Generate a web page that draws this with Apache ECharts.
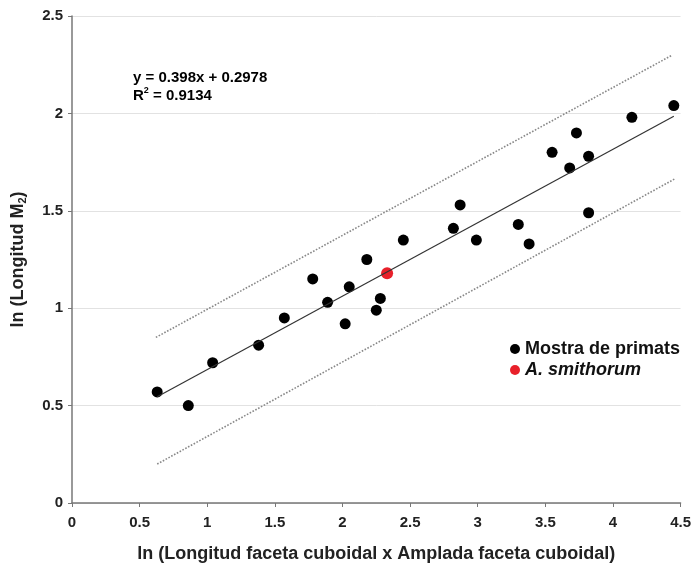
<!DOCTYPE html>
<html>
<head>
<meta charset="utf-8">
<script src="https://cdn.jsdelivr.net/npm/echarts@6/dist/echarts.min.js"></script>
<style>
  html, body { margin: 0; padding: 0; background: #fff; }
  #chart { width: 694px; height: 568px; }
</style>
</head>
<body>
<div id="chart"></div>
<script>
// primate sample
const primatX = [0.63, 0.86, 1.04, 1.38, 1.57, 1.78, 1.89, 2.02, 2.05, 2.18, 2.25, 2.28,
  2.45, 2.82, 2.87, 2.99, 3.30, 3.38, 3.55, 3.68, 3.73, 3.82, 3.82, 4.14, 4.45];
const primatY = [0.57, 0.50, 0.72, 0.81, 0.95, 1.15, 1.03, 0.92, 1.11, 1.25, 0.99, 1.05,
  1.35, 1.41, 1.53, 1.35, 1.43, 1.33, 1.80, 1.72, 1.90, 1.78, 1.49, 1.98, 2.04];
const smithX = [2.33];
const smithY = [1.18];

// regression line and dotted band, end points
const fitX = [0.63, 4.45];
const fitY = [0.545, 1.985];
const upperX = [0.62, 4.44];
const upperY = [0.85, 2.30];
const lowerX = [0.63, 4.46];
const lowerY = [0.20, 1.665];

const xTicks = [0, 4.5, 0.5];
const yTicks = [0, 2.5, 0.5];

const zip = (xs, ys) => xs.map((x, i) => [x, ys[i]]);
const font = '"Liberation Sans", Arial, sans-serif';

const chart = echarts.init(document.getElementById('chart'));
chart.setOption({
  animation: false,
  grid: { left: 72, right: 11, top: 16, bottom: 65 },
  xAxis: {
    type: 'value',
    min: xTicks[0],
    max: xTicks[1],
    interval: xTicks[2],
    name: 'ln (Longitud faceta cuboidal x Amplada faceta cuboidal)',
    nameLocation: 'middle',
    nameGap: 42,
    nameTextStyle: { fontFamily: font, fontWeight: 'bold', fontSize: 18, color: '#222' },
    axisLine: { lineStyle: { color: '#777', width: 1.5 } },
    axisTick: { show: true, length: 4, lineStyle: { color: '#777' } },
    axisLabel: { fontFamily: font, fontWeight: 'bold', fontSize: 15, color: '#222', margin: 12 },
    splitLine: { show: false },
  },
  yAxis: {
    type: 'value',
    min: yTicks[0],
    max: yTicks[1],
    interval: yTicks[2],
    name: '{a|ln (Longitud M}{s|2}{a|)}',
    nameLocation: 'middle',
    nameGap: 44,
    nameTextStyle: {
      rich: {
        a: { fontFamily: font, fontWeight: 'bold', fontSize: 18, color: '#222' },
        s: { fontFamily: font, fontWeight: 'bold', fontSize: 11, color: '#222', verticalAlign: 'bottom', padding: [9, 0, 0, 0] },
      },
    },
    axisLine: { show: true, lineStyle: { color: '#777', width: 1.5 } },
    axisTick: { show: true, length: 4, lineStyle: { color: '#777' } },
    axisLabel: { fontFamily: font, fontWeight: 'bold', fontSize: 15, color: '#222', margin: 9 },
    splitLine: { lineStyle: { color: '#e2e2e2', width: 1 } },
  },
  legend: {
    orient: 'vertical',
    left: 505,
    top: 335,
    itemGap: 3,
    itemWidth: 10,
    itemHeight: 10,
    icon: 'circle',
    data: ['Mostra de primats', 'A. smithorum'],
    formatter: (name) => (name === 'A. smithorum' ? '{i|' + name + '}' : '{b|' + name + '}'),
    textStyle: {
      rich: {
        b: { fontFamily: font, fontWeight: 'bold', fontSize: 18, color: '#111' },
        i: { fontFamily: font, fontWeight: 'bold', fontStyle: 'italic', fontSize: 18, color: '#111' },
      },
    },
  },
  graphic: [
    {
      type: 'text',
      left: 133,
      top: 70,
      style: {
        text: '{a|y = 0.398x + 0.2978}\n{a|R}{s|2}{a| = 0.9134}',
        rich: {
          a: { fontFamily: font, fontWeight: 'bold', fontSize: 15, color: '#111', lineHeight: 18 },
          s: { fontFamily: font, fontWeight: 'bold', fontSize: 9, color: '#111', verticalAlign: 'top', lineHeight: 18, padding: [0, 0, 7, 0] },
        },
      },
    },
  ],
  series: [
    {
      name: 'upper',
      type: 'line',
      data: zip(upperX, upperY),
      showSymbol: false,
      silent: true,
      lineStyle: { color: '#888', width: 1.6, type: 'dotted' },
    },
    {
      name: 'lower',
      type: 'line',
      data: zip(lowerX, lowerY),
      showSymbol: false,
      silent: true,
      lineStyle: { color: '#888', width: 1.6, type: 'dotted' },
    },
    {
      name: 'fit',
      type: 'line',
      data: zip(fitX, fitY),
      showSymbol: false,
      silent: true,
      lineStyle: { color: '#333', width: 1.2 },
    },
    {
      name: 'Mostra de primats',
      type: 'scatter',
      data: zip(primatX, primatY),
      symbolSize: 11,
      itemStyle: { color: '#000', opacity: 1 },
    },
    {
      name: 'A. smithorum',
      type: 'scatter',
      data: zip(smithX, smithY),
      symbolSize: 12,
      itemStyle: { color: '#e8202a', opacity: 1 },
    },
  ],
});
</script>
</body>
</html>
